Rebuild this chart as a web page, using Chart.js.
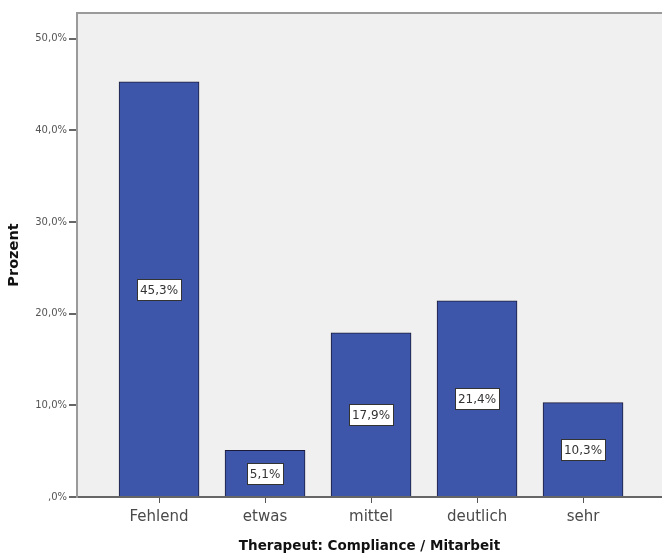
<!DOCTYPE html>
<html>
<head>
<meta charset="utf-8">
<script src="https://cdn.jsdelivr.net/npm/chart.js@4.4.1/dist/chart.umd.min.js"></script>
<style>
html,body{margin:0;padding:0;background:#fff;}
#wrap{width:662px;height:559px;}
</style>
</head>
<body>
<div id="wrap"><canvas id="c" width="662" height="559"></canvas></div>
<script>
const categories = ['Fehlend', 'etwas', 'mittel', 'deutlich', 'sehr'];
const percentValues = [45.3, 5.1, 17.9, 21.4, 10.3];
const valueLabels = ['45,3%', '5,1%', '17,9%', '21,4%', '10,3%'];
const yTickValues = [0, 10, 20, 30, 40, 50];
const yTickLabels = [',0%', '10,0%', '20,0%', '30,0%', '40,0%', '50,0%'];
const xTitle = 'Therapeut: Compliance / Mitarbeit';
const yTitle = 'Prozent';

const FONT = "'DejaVu Sans', Verdana, sans-serif";

const bgPlugin = {
  id: 'bg',
  beforeDraw(chart) {
    const {ctx, chartArea: a} = chart;
    ctx.save();
    ctx.fillStyle = '#f0f0f0';
    ctx.fillRect(a.left, a.top, a.right - a.left, a.bottom - a.top);
    ctx.restore();
  },
  afterDraw(chart) {
    const {ctx, chartArea: a} = chart;
    ctx.save();
    ctx.strokeStyle = '#9a9a9a';
    ctx.lineWidth = 2;
    ctx.beginPath();
    ctx.moveTo(a.left, a.top);
    ctx.lineTo(a.right, a.top);
    ctx.stroke();
    ctx.restore();
  }
};

const labelPlugin = {
  id: 'vlabels',
  afterDatasetsDraw(chart) {
    const {ctx} = chart;
    const xs = chart.scales.x, ys = chart.scales.y;
    ctx.save();
    ctx.font = '12px ' + FONT;
    ctx.textAlign = 'center';
    ctx.textBaseline = 'middle';
    percentValues.forEach((v, i) => {
      const cx = xs.getPixelForValue(i);
      const cy = ys.getPixelForValue(v / 2);
      const w = ctx.measureText(valueLabels[i]).width + 6;
      const h = 21;
      ctx.fillStyle = '#ffffff';
      ctx.fillRect(Math.round(cx - w / 2), Math.round(cy - h / 2), Math.round(w), h);
      ctx.strokeStyle = '#333333';
      ctx.lineWidth = 1;
      ctx.strokeRect(Math.round(cx - w / 2) + 0.5, Math.round(cy - h / 2) + 0.5, Math.round(w), h);
      ctx.fillStyle = '#333333';
      ctx.fillText(valueLabels[i], cx, cy + 1);
    });
    ctx.restore();
  }
};

new Chart(document.getElementById('c'), {
  type: 'bar',
  data: {
    datasets: [{
      data: percentValues.map((v, i) => ({x: i, y: v})),
      backgroundColor: '#3d56a9',
      borderColor: '#1c1c3a',
      borderWidth: 1,
      barThickness: 80
    }]
  },
  options: {
    responsive: false,
    animation: false,
    devicePixelRatio: 1,
    layout: {padding: {left: 0, right: 0, top: 13, bottom: 0}},
    plugins: {legend: {display: false}, tooltip: {enabled: false}},
    scales: {
      x: {
        type: 'linear',
        offset: false,
        min: -0.774,
        max: 4.745,
        afterBuildTicks(s) { s.ticks = categories.map((c, i) => ({value: i})); },
        afterFit(s) { s.height = 62; },
        ticks: {
          autoSkip: false,
          maxRotation: 0,
          padding: 5,
          color: '#4a4a4a',
          font: {family: FONT, size: 15},
          callback: (v) => categories[v]
        },
        grid: {offset: false, drawOnChartArea: false, drawTicks: true, tickLength: 6, color: '#555555', lineWidth: 1},
        border: {display: true, color: '#666666', width: 2},
        title: {display: true, text: xTitle, color: '#111111', font: {family: FONT, size: 13.5, weight: 'bold'}, padding: {top: 2, bottom: 4}}
      },
      y: {
        min: 0,
        max: 52.8,
        afterBuildTicks(s) { s.ticks = yTickValues.map(v => ({value: v})); },
        afterFit(s) { s.width = 77; },
        ticks: {
          padding: 2,
          color: '#555555',
          font: {family: FONT, size: 10},
          callback: (v) => yTickLabels[yTickValues.indexOf(v)]
        },
        grid: {drawOnChartArea: false, drawTicks: true, tickLength: 8, color: '#666666', lineWidth: 2},
        border: {display: true, color: '#9a9a9a', width: 2},
        title: {display: true, text: yTitle, color: '#111111', font: {family: FONT, size: 14.5, weight: 'bold'}, padding: {top: 6, bottom: 0}}
      }
    }
  },
  plugins: [bgPlugin, labelPlugin]
});
</script>
</body>
</html>
